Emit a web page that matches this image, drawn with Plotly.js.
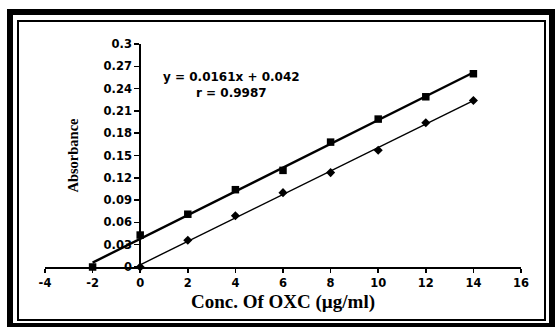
<!DOCTYPE html>
<html>
<head>
<meta charset="utf-8">
<script src="https://cdn.plot.ly/plotly-3.0.1.min.js"></script>
<style>
  html, body { margin: 0; padding: 0; background: #fff; overflow: hidden; }
  #outer { position: absolute; left: 7px; top: 9px; width: 548px; height: 320px; border: 6px solid #000; box-sizing: border-box; }
  #inner { position: absolute; left: 17px; top: 20px; width: 529px; height: 301px; border: 2px solid #000; box-sizing: border-box; }
  #chart { position: absolute; left: 0; top: 0; width: 555px; height: 327px; }
</style>
</head>
<body>
<div id="outer"></div>
<div id="inner"></div>
<div id="chart"></div>
<script>
// Standard addition series (squares)
const xSquares = [-2, 0, 2, 4, 6, 8, 10, 12, 14];
const ySquares = [0, 0.043, 0.071, 0.104, 0.130, 0.168, 0.199, 0.229, 0.260];
// Pure drug series (diamonds)
const xDiamonds = [0, 2, 4, 6, 8, 10, 12, 14];
const yDiamonds = [0, 0.036, 0.069, 0.100, 0.127, 0.157, 0.194, 0.224];

const xTicks = [-4, -2, 0, 2, 4, 6, 8, 10, 12, 14, 16];
const yTicks = [0, 0.03, 0.06, 0.09, 0.12, 0.15, 0.18, 0.21, 0.24, 0.27, 0.3];
const yTickText = ['0', '0.03', '0.06', '0.09', '0.12', '0.15', '0.18', '0.21', '0.24', '0.27', '0.3'];

const equationLines = ['y = 0.0161x + 0.042', 'r = 0.9987'];

function fit(xs, ys) {
  const n = xs.length;
  const mx = xs.reduce((a, b) => a + b, 0) / n;
  const my = ys.reduce((a, b) => a + b, 0) / n;
  let sxy = 0, sxx = 0;
  for (let i = 0; i < n; i++) { sxy += (xs[i] - mx) * (ys[i] - my); sxx += (xs[i] - mx) ** 2; }
  const m = sxy / sxx;
  return { m: m, b: my - m * mx };
}
function lineOf(xs, ys) {
  const f = fit(xs, ys);
  const x0 = Math.min(...xs), x1 = Math.max(...xs);
  return { x: [x0, x1], y: [f.m * x0 + f.b, f.m * x1 + f.b] };
}

const sqLine = lineOf(xSquares, ySquares);
const dmLine = lineOf(xDiamonds, yDiamonds);

const tickFont = { family: 'DejaVu Sans', size: 11.5, color: '#000', weight: 'bold' };
const bold = s => '<b>' + s + '</b>';

const traces = [
  { x: sqLine.x, y: sqLine.y, mode: 'lines', line: { color: '#000', width: 2.4 }, hoverinfo: 'skip', cliponaxis: false },
  { x: dmLine.x, y: dmLine.y, mode: 'lines', line: { color: '#000', width: 1.4 }, hoverinfo: 'skip', cliponaxis: false },
  { x: xSquares, y: ySquares, mode: 'markers', marker: { symbol: 'square', size: 7.5, color: '#000' }, cliponaxis: false },
  { x: xDiamonds, y: yDiamonds, mode: 'markers', marker: { symbol: 'diamond', size: 7, color: '#000' }, cliponaxis: false }
];

const layout = {
  width: 555, height: 327,
  margin: { l: 45, r: 34, t: 44, b: 60 },
  paper_bgcolor: 'rgba(0,0,0,0)', plot_bgcolor: 'rgba(0,0,0,0)',
  showlegend: false,
  font: { family: 'DejaVu Sans', color: '#000' },
  xaxis: {
    range: [-4, 16], tickvals: xTicks, ticktext: xTicks.map(v => bold(String(v))),
    showline: true, linecolor: '#000', linewidth: 2,
    ticks: 'outside', ticklen: 4, tickwidth: 1.5, tickcolor: '#000',
    showgrid: false, zeroline: false, tickfont: tickFont,
    title: { text: '<b>Conc. Of OXC (µg/ml)</b>', font: { family: 'Liberation Serif', size: 19, color: '#000', weight: 'bold' }, standoff: 6 }
  },
  yaxis: {
    range: [0, 0.3], anchor: 'free', position: 0.2,
    tickvals: yTicks, ticktext: yTickText.map(bold),
    showline: true, linecolor: '#000', linewidth: 2,
    ticks: 'outside', ticklen: 5, tickwidth: 1.5, tickcolor: '#000',
    showgrid: false, zeroline: false, tickfont: tickFont,
    title: { text: '<b>Absorbance</b>', font: { family: 'Liberation Serif', size: 14.5, color: '#000', weight: 'bold' }, standoff: 20 }
  },
  annotations: [{
    x: 3.82, y: 0.245, xref: 'x', yref: 'y', showarrow: false,
    text: equationLines.map(bold).join('<br>'), align: 'center',
    font: { family: 'DejaVu Sans', size: 12, color: '#000', weight: 'bold' }
  }]
};

Plotly.newPlot('chart', traces, layout, { displayModeBar: false, staticPlot: true });
</script>
</body>
</html>
